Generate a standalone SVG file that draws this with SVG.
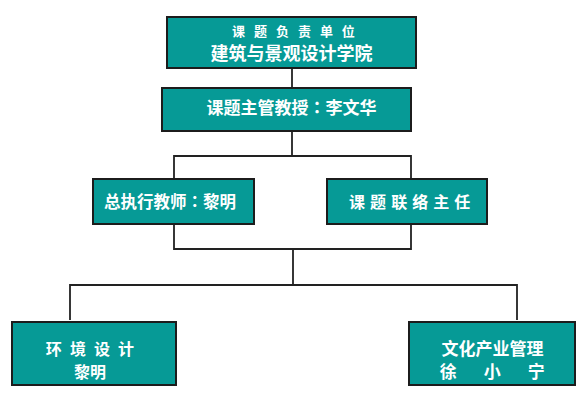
<svg xmlns="http://www.w3.org/2000/svg" width="586" height="398" viewBox="0 0 586 398">
<style>
.box{fill:#069a96;stroke:#1c1c1c;stroke-width:2}
.t{fill:#fff;font-family:"Noto Sans CJK SC","Noto Sans",sans-serif;font-weight:bold;text-anchor:middle}
.p{font-family:"Noto Sans CJK TC","Noto Sans CJK SC",sans-serif}
.c{fill:none;stroke:#222;stroke-width:1.8}
</style>
<rect width="586" height="398" fill="#fff"/>
<g id="connectors">
<path class="c" d="M292 68V88"/>
<path class="c" d="M292 131V156M174 179V156H411V179"/>
<path class="c" d="M174 224V249H411V224M293 249V285"/>
<path class="c" d="M70 320V285H517V320"/>
</g>
<g id="n1">
<rect class="box" x="167" y="17" width="249" height="51"/>
<text class="t" x="295" y="35.5" font-size="13" letter-spacing="3">课 题 负 责 单 位</text>
<text class="t" x="291.5" y="60" font-size="18">建筑与景观设计学院</text>
</g>
<g id="n2">
<rect class="box" x="162" y="88" width="249" height="43"/>
<text class="t" x="291.5" y="114" font-size="17">课题主管教授<tspan class="p">：</tspan>李文华</text>
</g>
<g id="n3">
<rect class="box" x="93" y="179" width="161" height="45"/>
<text class="t" x="170" y="208" font-size="16.5">总执行教师<tspan class="p">：</tspan>黎明</text>
</g>
<g id="n4">
<rect class="box" x="327" y="179" width="160" height="45"/>
<text class="t" x="410" y="208" font-size="16" letter-spacing="0.7">课 题 联 络 主 任</text>
</g>
<g id="n5">
<rect class="box" x="12" y="322" width="164" height="63"/>
<text class="t" x="91" y="354.5" font-size="16" letter-spacing="2.2">环 境 设 计</text>
<text class="t" x="90" y="377.5" font-size="16">黎明</text>
</g>
<g id="n6">
<rect class="box" x="409" y="322" width="166" height="63"/>
<text class="t" x="492.5" y="354.5" font-size="17">文化产业管理</text>
<text class="t" x="498" y="377.5" font-size="17" letter-spacing="11.6">徐 小 宁</text>
</g>
</svg>
